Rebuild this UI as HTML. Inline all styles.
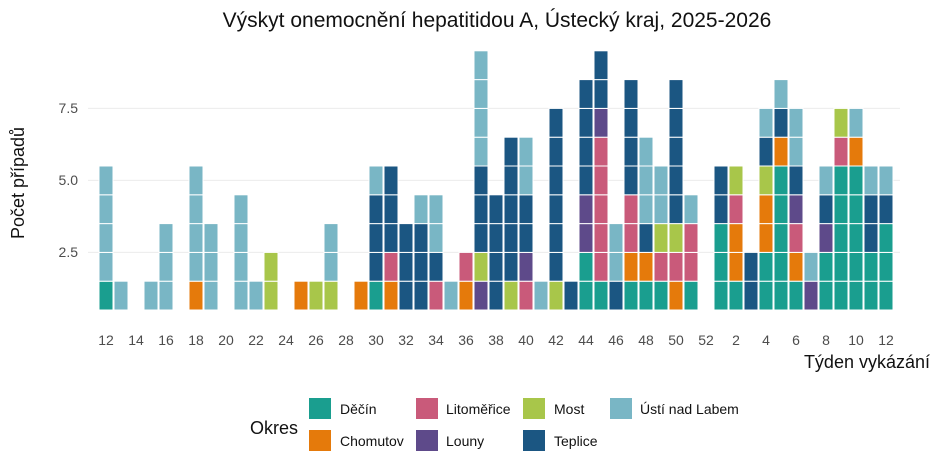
<!DOCTYPE html>
<html><head><meta charset="utf-8"><style>
html,body{margin:0;padding:0;background:#fff;}
svg{display:block;font-family:"Liberation Sans",Arial,sans-serif;}
</style></head><body>
<svg id="s" width="940" height="470" viewBox="0 0 940 470" xmlns="http://www.w3.org/2000/svg">
<rect width="940" height="470" fill="#fff"/>
<g stroke="#ebebeb" stroke-width="1">
<line x1="88" x2="900" y1="252.4" y2="252.4"/>
<line x1="88" x2="900" y1="180.4" y2="180.4"/>
<line x1="88" x2="900" y1="108.4" y2="108.4"/>
</g>
<text x="497" y="27" font-size="21" text-anchor="middle" fill="#111">Výskyt onemocnění hepatitidou A, Ústecký kraj, 2025-2026</text>
<text transform="translate(24,183) rotate(-90)" font-size="18" text-anchor="middle" fill="#111">Počet případů</text>
<g font-size="14" fill="#4d4d4d" text-anchor="end">
<text x="78" y="257">2.5</text><text x="78" y="185">5.0</text><text x="78" y="113">7.5</text>
</g>
<g id="bars"></g>
<g id="xt" font-size="14" fill="#4d4d4d" text-anchor="middle"></g>
<text x="930" y="368" font-size="18" text-anchor="end" fill="#111">Týden vykázání</text>
<text x="250" y="434" font-size="18" fill="#111">Okres</text>
<g font-size="14" fill="#111">
<rect x="309" y="398" width="22" height="21" fill="#1a9e8f"/><text x="340" y="414">Děčín</text>
<rect x="309" y="430" width="22" height="21" fill="#e57a0b"/><text x="340" y="446">Chomutov</text>
<rect x="416" y="398" width="22" height="21" fill="#c95a7a"/><text x="446" y="414">Litoměřice</text>
<rect x="416" y="430" width="22" height="21" fill="#5e4a8a"/><text x="446" y="446">Louny</text>
<rect x="523" y="398" width="22" height="21" fill="#a8c64a"/><text x="554" y="414">Most</text>
<rect x="523" y="430" width="22" height="21" fill="#1b5682"/><text x="554" y="446">Teplice</text>
<rect x="610" y="398" width="22" height="21" fill="#79b6c5"/><text x="640" y="414">Ústí nad Labem</text>
</g>
</svg>
<script>
var col={D:"#1a9e8f",C:"#e57a0b",L:"#c95a7a",O:"#5e4a8a",M:"#a8c64a",T:"#1b5682",U:"#79b6c5"};
var data={12:"DUUUU",13:"U",15:"U",16:"UUU",18:"CUUUU",19:"UUU",21:"UUUU",22:"U",23:"MM",
25:"C",26:"M",27:"MUU",29:"C",30:"DTTTU",31:"CLTTT",32:"TTT",33:"TTTU",34:"LTUU",35:"U",36:"CL",
37:"OMTTTUUUU",38:"TTTT",39:"MTTTTT",40:"LOTTUU",41:"U",42:"MTTTTTT",43:"T",44:"DDOOTTTT",
45:"DLLLLLOTT",46:"TUU",47:"DCLLTTTT",48:"DCTUUU",49:"DLMUU",50:"CLMTTTTT",51:"DLLU",
53:"DDDTT",54:"DCCLM",55:"TT",56:"DDCCMTU",57:"DDDDDCTU",58:"DCLOTUU",59:"OU",60:"DDOTU",
61:"DDDDDLM",62:"DDDDDCU",63:"DDTTU",64:"DDDTU"};
var g=document.getElementById("bars"),h="";
for(var w in data){var cx=106+(w-12)*15,s=data[w];
for(var i=0;i<s.length;i++){var y=310-(i+1)*28.8;
h+='<rect x="'+(cx-7)+'" y="'+y+'" width="14" height="28.8" fill="'+col[s[i]]+'" stroke="#fff" stroke-width="1"/>';}}
g.innerHTML=h;
var xt=document.getElementById("xt"),t="";
var labs=[12,14,16,18,20,22,24,26,28,30,32,34,36,38,40,42,44,46,48,50,52,2,4,6,8,10,12];
for(var k=0;k<labs.length;k++){t+='<text x="'+(106+k*30)+'" y="345">'+labs[k]+'</text>';}
xt.innerHTML=t;
</script>
</body></html>
